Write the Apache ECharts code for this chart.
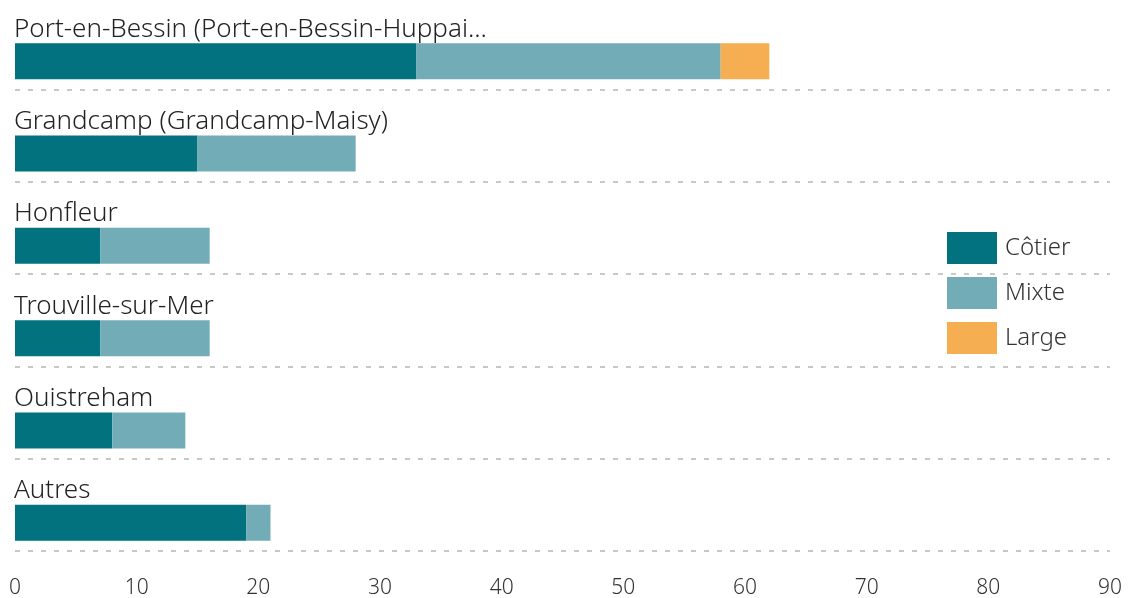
<!DOCTYPE html>
<html>
<head>
<meta charset="utf-8">
<script src="https://cdn.jsdelivr.net/npm/echarts@6/dist/echarts.min.js"></script>
<style>
  html, body { margin: 0; padding: 0; background: #fff; }
  #chart { width: 1132px; height: 598px; }
</style>
</head>
<body>
<div id="chart"></div>
<script>
// ports de pêche, nombre de navires par type
const ports = [
    "Port-en-Bessin (Port-en-Bessin-Huppai...",
    "Grandcamp (Grandcamp-Maisy)",
    "Honfleur",
    "Trouville-sur-Mer",
    "Ouistreham",
    "Autres"
]
const cotier = [33, 15, 7, 7, 8, 19]
const mixte = [25, 13, 9, 9, 6, 2]
const large = [4, 0, 0, 0, 0, 0]
const xTicks = [0, 10, 20, 30, 40, 50, 60, 70, 80, 90]

const font = "Noto Sans"
const chart = echarts.init(document.getElementById('chart'))

const option = {
    animation: false,
    textStyle: { fontFamily: font, fontWeight: 300 },
    grid: {
        top: -3,
        left: 15,
        right: 22,
        bottom: 47,
        containLabel: false,
        outerBoundsMode: 'none'
    },
    legend: {
        data: ['Côtier', 'Mixte', 'Large'],
        orient: 'vertical',
        left: 947,
        top: 232,
        padding: 0,
        itemWidth: 50,
        itemHeight: 32,
        itemGap: 13,
        icon: 'rect',
        textStyle: { fontSize: 24, color: '#333', fontFamily: font, fontWeight: 300, padding: [0, 0, 0, 3] }
    },
    xAxis: {
        type: 'value',
        min: xTicks[0],
        max: xTicks[xTicks.length - 1],
        interval: 10,
        axisLine: { show: false },
        axisTick: { show: false },
        splitLine: { show: false },
        axisLabel: { color: '#333', fontSize: 21, fontWeight: 300, margin: 27 }
    },
    yAxis: {
        type: 'category',
        data: ports,
        inverse: true,
        axisLine: { show: false },
        axisTick: { show: false },
        axisLabel: { show: false },
        // pointillés entre les ports
        splitLine: {
            show: true,
            lineStyle: { color: '#c8c8c8', width: 2, type: [5, 8] }
        }
    },
    series: [
        {
            // espace vide au-dessus des barres (pour le libellé)
            name: 'spacer',
            type: 'bar',
            stack: 'vide',
            barWidth: 36,
            barGap: 0,
            data: ports.map(() => null),
            itemStyle: { color: 'transparent' },
            silent: true
        },
        {
            name: 'Côtier',
            type: 'bar',
            stack: 'total',
            barWidth: 36,
            data: cotier,
            itemStyle: { color: '#03727f' },
            // nom du port au-dessus de la barre
            label: {
                show: true,
                position: [-1, -1],
                align: 'left',
                verticalAlign: 'bottom',
                color: '#222',
                fontSize: 26,
                fontWeight: 300,
                formatter: p => p.name
            }
        },
        {
            name: 'Mixte',
            type: 'bar',
            stack: 'total',
            barWidth: 36,
            data: mixte,
            itemStyle: { color: '#72adb7' }
        },
        {
            name: 'Large',
            type: 'bar',
            stack: 'total',
            barWidth: 36,
            data: large,
            itemStyle: { color: '#f5ae52' }
        }
    ]
}
chart.setOption(option)
</script>
</body>
</html>
